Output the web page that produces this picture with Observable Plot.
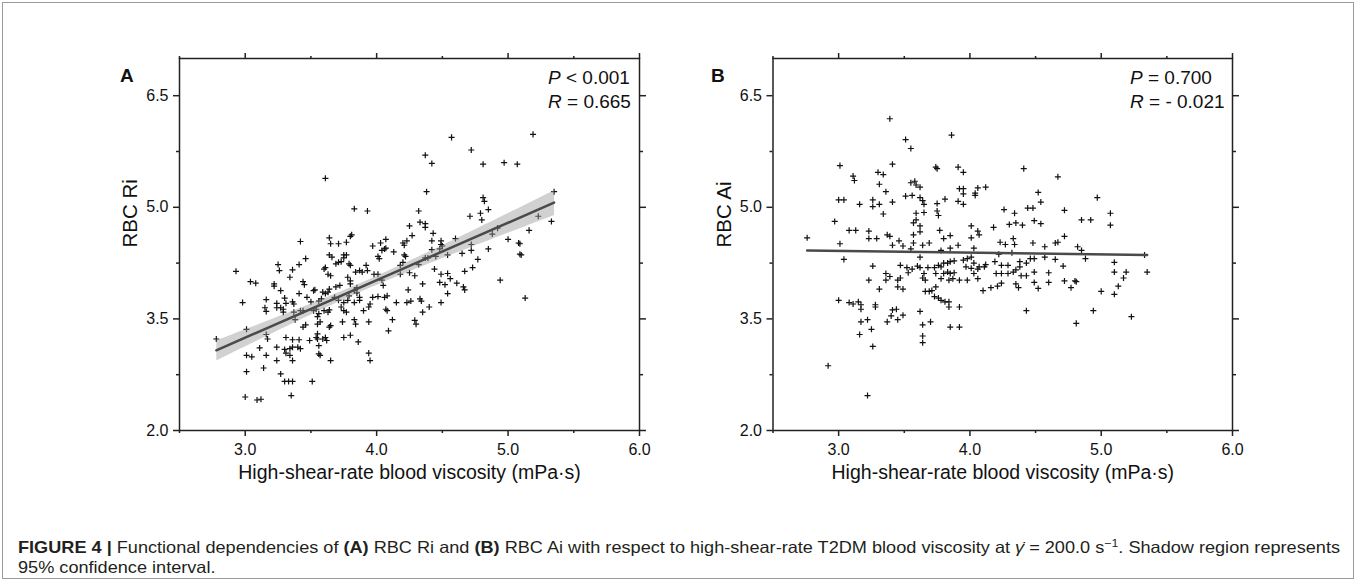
<!DOCTYPE html>
<html><head><meta charset="utf-8">
<script src="https://cdn.jsdelivr.net/npm/d3@7"></script>
<script src="https://cdn.jsdelivr.net/npm/@observablehq/plot@0.6"></script>
<style>
body{margin:0;background:#fff;}
#fig{position:relative;width:1357px;height:581px;overflow:hidden;font-family:"Liberation Sans",Arial,sans-serif;color:#111;}
#border{position:absolute;left:2px;top:2px;width:1350px;height:575px;border:1px solid #9a9a9a;pointer-events:none;}
.panel{position:absolute;top:0;}
.panel svg{background:transparent !important;max-width:none !important;}
.plabel{position:absolute;font-weight:bold;font-size:19px;line-height:1;}
.stats{position:absolute;font-size:19px;line-height:24px;white-space:nowrap;}
#caption{position:absolute;left:18px;top:537px;font-family:"Liberation Sans Narrow","Liberation Sans",Arial,sans-serif;font-size:16.5px;line-height:20px;white-space:nowrap;transform-origin:0 0;color:#231f20;}
#caption sup{font-size:0.68em;line-height:0;vertical-align:0.5em;}
</style></head>
<body>
<div id="fig">
  <div id="panelA" class="panel" style="left:0;width:680px;"></div>
  <div id="panelB" class="panel" style="left:680px;width:600px;"></div>
  <div class="plabel" style="left:120px;top:66px">A</div>
  <div class="plabel" style="left:711px;top:66px">B</div>
  <div class="stats" style="left:548px;top:66px"><i>P</i> &lt; 0.001<br><i>R</i> = 0.665</div>
  <div class="stats" style="left:1130px;top:66px"><i>P</i> = 0.700<br><i>R</i> = - 0.021</div>
  <div id="caption"><span id="cap1"><b>FIGURE 4 |</b> Functional dependencies of <b>(A)</b> RBC Ri and <b>(B)</b> RBC Ai with respect to high-shear-rate T2DM blood viscosity at <i>γ̇</i> = 200.0 s<sup>−1</sup>. Shadow region represents</span><br>95% confidence interval.</div>
  <div id="border"></div>
</div>
<script>
// ---------- Panel A: RBC Ri vs high-shear-rate viscosity ----------
const viscosityA = [
  3.61,3.42,3.64,3.65,3.71,3.77,3.80,3.81,3.83,3.93,3.97,4.03,4.07,4.06,4.20,4.21,4.23,4.27,4.25,4.32,4.33,
  4.57,5.19,4.72,4.37,4.42,4.81,4.97,5.07,4.38,4.81,4.82,4.85,4.79,4.80,4.71,4.37,4.37,4.43,5.35,5.23,5.33,5.16,4.92,4.88,5.00,5.08,5.09,4.60,4.72,4.42,4.49,4.49,4.85,
  5.09,5.10,4.94,5.13,4.77,4.73,4.67,4.66,4.67,4.72,4.65,4.54,4.61,4.56,4.54,4.54,4.52,4.49,4.48,4.49,4.50,4.48,4.42,4.45,4.44,4.35,4.29,4.25,4.24,4.23,4.26,4.33,4.34,4.40,4.35,4.29,4.30,4.21,4.22,4.32,4.37,4.39,
  2.78,2.93,2.98,3.01,3.01,3.05,3.01,3.00,3.09,3.12,
  3.04,3.08,3.11,3.14,3.16,3.15,3.16,3.16,3.17,3.16,
  3.24,3.24,3.25,3.26,3.27,3.24,3.24,3.27,3.22,3.22,
  3.27,3.30,3.33,3.36,3.35,3.30,3.31,3.29,3.29,3.34,
  3.36,3.36,3.37,3.31,3.30,3.34,3.36,3.31,3.34,3.36,
  3.36,3.41,3.40,3.42,3.41,3.46,3.44,3.45,3.41,3.37,
  3.42,3.44,3.38,3.44,3.46,3.49,3.51,3.47,3.50,3.52,
  3.53,3.52,3.54,3.55,3.54,3.55,3.56,3.56,3.57,3.55,
  3.57,3.56,3.55,3.58,3.56,3.59,3.61,3.63,3.64,3.60,
  3.61,3.64,3.66,3.63,3.65,3.60,3.63,3.64,3.65,3.64,
  3.65,3.59,3.62,3.61,3.69,3.71,3.73,3.69,3.72,3.68,
  3.71,3.75,3.75,3.77,3.75,3.73,3.75,3.77,3.74,3.75,
  3.80,3.79,3.80,3.78,3.80,3.80,3.79,3.78,3.83,3.83,
  3.84,3.86,3.84,3.87,3.89,3.85,3.87,3.87,3.83,3.85,
  3.90,3.92,3.93,3.94,3.95,3.94,3.94,3.95,3.98,4.01,
  3.97,4.01,4.04,4.05,4.06,4.08,4.04,4.07,4.13,4.01,
  4.02,4.07,4.08,4.09,4.12,4.15,4.18,4.20,4.18
];
const riA = [
  5.39,4.54,4.59,4.51,4.51,4.53,4.61,4.63,4.98,4.95,4.48,4.52,4.57,4.44,4.52,4.49,4.55,4.62,4.75,4.95,4.80,
  5.94,5.98,5.77,5.70,5.59,5.58,5.60,5.58,5.21,5.13,5.08,4.97,4.92,4.83,4.88,4.78,4.73,4.65,5.21,4.88,4.81,4.69,4.72,4.64,4.57,4.52,4.51,4.58,4.50,4.55,4.55,4.50,4.44,
  4.37,4.36,4.02,3.78,4.30,4.19,4.14,3.93,3.89,4.42,4.38,4.36,3.98,4.04,4.11,3.84,3.96,4.10,3.99,3.72,4.48,4.44,4.43,4.34,4.17,3.97,4.08,4.12,3.89,3.72,3.74,3.77,3.74,3.66,3.59,3.48,3.43,4.36,4.34,4.23,4.32,4.32,
  3.23,4.14,3.72,3.36,3.01,2.99,2.79,2.45,2.41,2.42,
  4.00,3.98,3.11,2.84,3.76,3.65,3.60,3.29,3.23,3.01,
  2.94,3.12,4.23,4.15,3.88,3.71,3.65,3.65,3.97,3.94,
  2.76,2.66,2.66,2.66,2.47,3.78,3.71,3.63,3.59,4.06,
  4.16,3.73,3.70,3.25,3.09,3.10,3.12,3.04,3.01,2.94,
  3.22,3.22,3.12,3.10,4.23,4.31,4.00,3.96,3.84,3.59,
  3.61,3.61,3.49,3.39,3.42,3.21,2.66,3.79,3.73,3.88,
  3.89,3.61,3.63,3.30,3.25,3.23,3.14,3.03,3.01,3.43,
  3.46,3.57,3.53,3.77,3.74,3.86,3.84,3.86,3.90,4.17,
  4.19,4.36,4.33,4.10,4.08,3.61,3.59,3.62,3.41,3.39,
  2.94,3.23,3.21,3.25,4.24,4.26,4.27,3.93,3.95,3.79,
  3.75,3.72,4.36,4.36,4.32,3.66,3.61,3.59,3.46,3.25,
  3.28,4.24,4.22,4.06,4.01,3.97,3.81,3.75,3.72,3.49,
  3.43,3.19,4.13,4.15,4.13,3.85,3.79,3.75,3.88,3.92,
  3.61,4.22,4.15,3.66,3.70,3.46,3.04,2.94,4.10,4.10,
  3.79,3.80,4.02,3.95,3.79,3.81,4.42,4.45,4.40,4.34,
  4.31,3.63,3.61,3.34,3.49,3.72,4.22,4.26,4.10
];

// ---------- Panel B: RBC Ai vs high-shear-rate viscosity ----------
const viscosityB = [
  2.76,2.97,3.01,3.00,3.04,3.16,3.11,3.12,3.08,3.13,
  3.01,3.26,3.26,3.31,3.30,3.34,3.31,3.34,3.36,3.39,
  3.41,3.41,3.23,3.23,3.29,3.37,3.39,3.41,3.46,3.51,
  3.55,3.51,3.56,3.55,3.58,3.59,3.62,3.62,3.64,3.65,
  3.59,3.59,3.57,3.62,3.62,3.57,3.57,3.65,3.69,3.64,
  3.74,3.75,3.75,3.75,3.76,3.77,3.81,3.80,3.85,3.86,
  3.91,3.95,3.91,3.92,3.95,3.95,3.95,3.91,4.04,4.04,
  4.06,4.12,4.01,4.06,4.07,4.01,4.18,4.26,4.30,4.35,
  4.34,4.23,4.27,4.34,4.33,
  4.41,4.67,4.52,4.54,4.97,4.44,4.48,4.72,5.07,5.07,
  4.85,4.92,4.40,4.49,4.54,4.72,4.48,4.57,4.65,4.67,4.82,
  3.04,3.00,2.92,3.08,3.11,3.15,3.17,3.17,3.17,3.16,
  3.22,3.25,3.22,3.26,3.26,3.23,3.31,3.28,3.28,3.36,
  3.36,3.39,3.41,3.37,3.40,3.45,3.44,3.45,3.47,3.45,
  3.49,3.47,3.49,3.49,3.52,3.53,3.56,3.55,3.60,3.62,
  3.62,3.62,3.64,3.64,3.64,3.70,3.65,3.68,3.64,3.66,
  3.66,3.69,3.71,3.73,3.74,3.76,3.78,3.73,3.76,3.78,
  3.74,3.78,3.81,3.84,3.84,3.85,3.92,3.92,3.80,3.83,
  3.85,3.88,3.80,3.83,3.85,3.88,3.84,3.87,3.92,3.98,
  3.78,3.85,3.95,3.98,4.01,3.97,4.01,4.03,4.03,4.06,
  4.07,4.03,4.06,
  4.32,4.22,4.19,4.12,4.11,4.24,4.29,4.20,4.24,4.29,
  4.33,4.35,4.38,4.43,4.38,4.39,4.43,4.46,4.49,4.57,
  4.65,4.71,4.49,4.60,4.60,4.49,4.52,4.35,4.37,4.24,
  4.21,4.16,4.10,4.43,4.72,4.80,4.81,4.77,4.81,4.94,
  4.88,5.10,5.10,5.19,5.17,5.13,5.10,5.00,5.23,5.35,
  5.33,4.85
];
const aiB = [
  4.59,4.81,5.56,5.10,5.10,5.04,5.42,5.36,4.69,4.69,
  4.51,5.10,5.01,5.04,5.47,5.44,5.31,4.91,5.21,6.19,
  5.58,5.07,4.68,4.58,4.58,4.63,4.61,4.49,4.55,5.91,
  5.79,5.15,5.16,5.33,5.35,5.30,5.27,5.13,5.09,5.04,
  4.92,4.83,4.79,4.75,4.67,4.63,4.52,4.93,4.52,4.49,
  5.54,5.52,5.05,4.95,4.89,4.69,5.11,4.58,4.62,5.97,
  5.54,5.47,5.08,5.25,5.25,5.18,5.04,4.49,5.19,5.16,
  5.26,5.27,4.75,4.68,4.63,4.59,4.73,4.97,4.77,4.79,
  4.92,4.53,4.50,4.50,4.58,
  5.52,5.41,5.20,5.07,5.13,4.99,4.99,4.96,4.92,4.76,
  4.83,4.83,4.76,4.82,4.78,4.61,4.52,4.47,4.52,4.53,4.47,
  4.30,3.75,2.87,3.72,3.70,3.73,3.69,3.63,3.46,3.29,
  3.49,3.36,2.47,3.13,4.21,4.02,3.90,3.69,3.66,4.11,
  4.02,4.07,3.62,3.46,3.54,3.49,3.63,4.02,4.05,3.93,
  3.90,4.22,3.55,4.48,4.19,4.12,4.17,4.44,4.21,4.19,
  4.33,3.60,3.42,3.27,3.18,3.46,4.11,4.19,4.05,4.02,
  3.87,3.87,3.88,3.80,3.93,3.78,3.75,4.19,4.22,4.20,
  4.11,4.04,3.73,3.73,3.66,3.39,3.39,3.66,4.25,4.25,
  4.27,4.28,4.11,4.13,4.11,4.12,4.02,4.04,4.02,4.02,
  4.42,4.45,4.29,4.31,4.33,4.20,4.18,4.25,4.11,4.17,
  4.20,4.45,4.04,
  4.39,4.37,4.27,4.23,4.20,4.22,4.22,4.11,4.11,4.11,
  4.13,4.16,4.27,4.25,4.20,4.08,4.08,4.31,4.31,4.33,
  4.30,4.21,4.13,4.12,3.99,3.99,3.91,3.97,3.92,3.98,
  3.94,3.92,3.88,3.61,4.01,4.01,4.00,3.92,3.44,3.61,
  4.31,4.26,4.13,4.13,4.05,3.94,3.83,3.87,3.53,4.13,
  4.36,4.42
];

// axis ticks and titles
const xMajor = [3, 4, 5, 6];
const xMinor = [2.5, 3.5, 4.5, 5.5];
const yMajor = [2.0, 3.5, 5.0, 6.5];
const yMinor = [2.75, 4.25, 5.75];
const xTitle = "High-shear-rate blood viscosity (mPa·s)";
const yTitleA = "RBC Ri";
const yTitleB = "RBC Ai";

const dataA = viscosityA.map((x, i) => ({x, y: riA[i]}));
const dataB = viscosityB.map((x, i) => ({x, y: aiB[i]}));

const FONT = "Liberation Sans, Arial, sans-serif";
const fmt = d => d.toFixed(1);

function axes() {
  const c = {stroke: "#222", strokeWidth: 1.5, label: null, fontSize: 16, fill: "#111"};
  return [
    Plot.axisX(xMajor, {...c, anchor: "bottom", tickSize: 6, tickPadding: 7, tickFormat: fmt}),
    Plot.axisX(xMinor, {...c, anchor: "bottom", tickSize: 3, tickFormat: () => ""}),
    Plot.axisX(xMajor, {...c, anchor: "top", tickSize: 6, tickFormat: () => ""}),
    Plot.axisX(xMinor, {...c, anchor: "top", tickSize: 3, tickFormat: () => ""}),
    Plot.axisY(yMajor, {...c, anchor: "left", tickSize: 6, tickPadding: 5, tickFormat: fmt}),
    Plot.axisY(yMinor, {...c, anchor: "left", tickSize: 3, tickFormat: () => ""}),
    Plot.axisY(yMajor, {...c, anchor: "right", tickSize: 6, tickFormat: () => ""}),
    Plot.axisY(yMinor, {...c, anchor: "right", tickSize: 3, tickFormat: () => ""})
  ];
}

function panel(data, yTitle, ci, opts) {
  return Plot.plot({
    ...opts,
    height: 500,
    marginTop: 58,
    marginBottom: 70,
    x: {domain: [2.5, 6.0], label: null},
    y: {domain: [2.0, 7.0], label: null},
    style: {fontFamily: FONT, fontSize: "16px", color: "#111", background: "transparent"},
    marks: [
      Plot.dot(data, {x: "x", y: "y", symbol: "plus", r: 2.1, stroke: "#111", strokeWidth: 1.2}),
      Plot.linearRegressionY(data, {x: "x", y: "y", stroke: "#4a4a4a", strokeWidth: 2.5, fill: "#9a9a9a", fillOpacity: 0.45, ci}),
      ...axes(),
      Plot.frame({stroke: "#222", strokeWidth: 1.5}),
      Plot.text([xTitle], {frameAnchor: "bottom", dy: 48, text: d => d, fontSize: 19.5, fill: "#111"}),
      Plot.text([yTitle], {frameAnchor: "left", dx: -49, dy: 3, rotate: -90, text: d => d, fontSize: 20.5, fill: "#111"})
    ]
  });
}

document.getElementById("panelA").appendChild(
  panel(dataA, yTitleA, 0.95, {width: 680, marginLeft: 179, marginRight: 41}));
document.getElementById("panelB").appendChild(
  panel(dataB, yTitleB, 0, {width: 600, marginLeft: 92.5, marginRight: 48}));

// fit the caption to the reference line width
const cap = document.getElementById("caption");
const w = document.getElementById("cap1").getBoundingClientRect().width;
cap.style.transform = `scaleX(${1322 / w})`;
</script>
</body></html>
